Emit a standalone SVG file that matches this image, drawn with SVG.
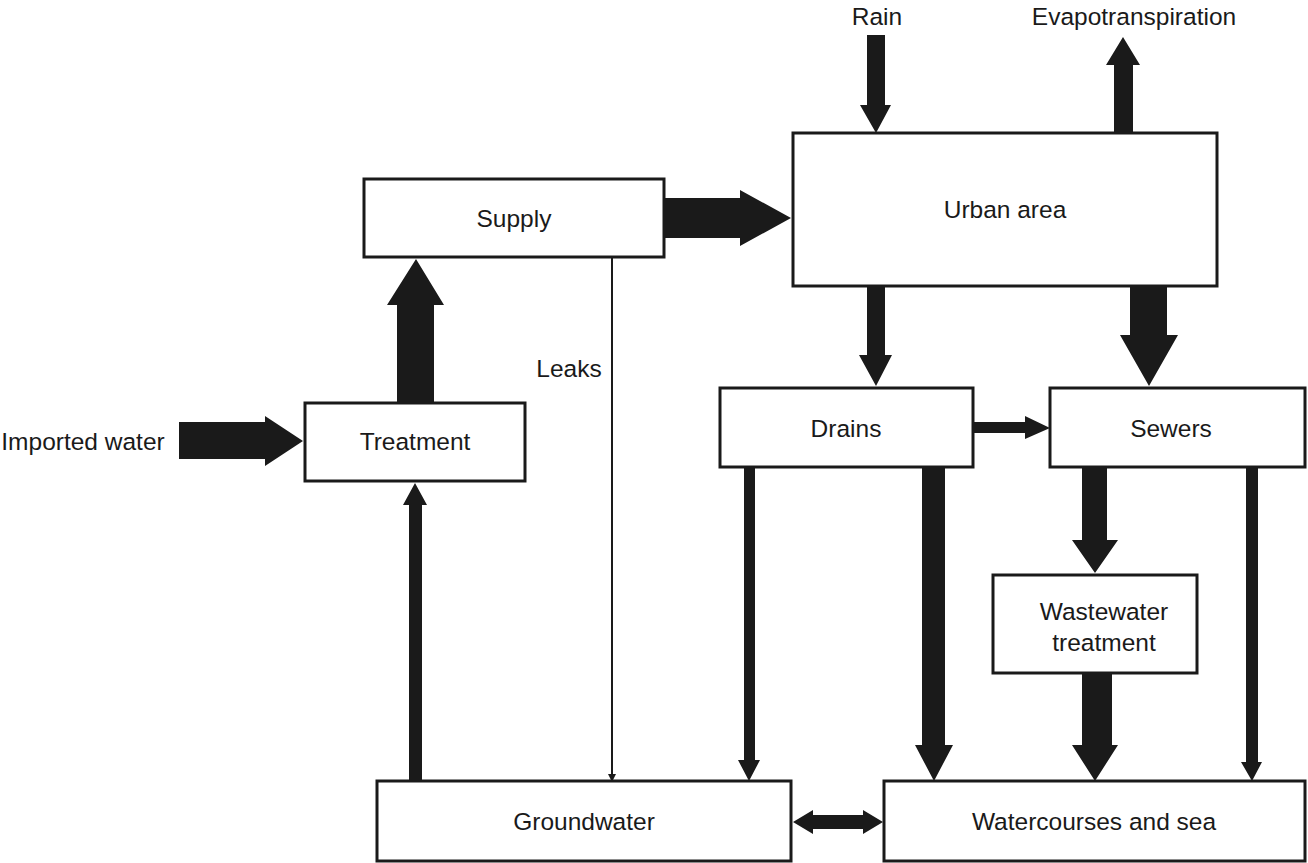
<svg xmlns="http://www.w3.org/2000/svg" width="1308" height="863" viewBox="0 0 1308 863">
<style>
.box{fill:#fff;stroke:#1a1a1a;stroke-width:3}
text{font-family:"Liberation Sans",Arial,sans-serif;font-size:24.5px;fill:#1a1a1a;text-anchor:middle}
.a{fill:#1a1a1a}
</style>
<rect width="1308" height="863" fill="#fff"/>
<g id="connectors">
<polygon class="a" points="867,35 885,35 885,105 891,105 876,133 860,105 867,105"/>
<polygon class="a" points="1114,133 1133,133 1133,65 1140,65 1123,37 1106,65 1114,65"/>
<polygon class="a" points="664,198 740,198 740,190 791,218 740,246 740,238 664,238"/>
<polygon class="a" points="867,286 885,286 885,355 892,355 876,386 859,355 867,355"/>
<polygon class="a" points="1130,286 1167,286 1167,335 1178,335 1149,386 1120,335 1130,335"/>
<polygon class="a" points="973,422 1025,422 1025,416 1050,428 1025,439 1025,433 973,433"/>
<polygon class="a" points="179,422 265,422 265,416 303,441 265,466 265,459 179,459"/>
<polygon class="a" points="397,403 434,403 434,305 444,305 416,259 387,305 397,305"/>
<line x1="612" y1="257" x2="612" y2="775" stroke="#1a1a1a" stroke-width="2"/>
<polygon class="a" points="608,774 616,774 612,782"/>
<polygon class="a" points="409,781 422,781 422,505 427,505 415,483 403,505 409,505"/>
<polygon class="a" points="744,467 755,467 755,760 760,760 749,781 738,760 744,760"/>
<polygon class="a" points="922,467 945,467 945,745 953,745 934,781 915,745 922,745"/>
<polygon class="a" points="1082,467 1107,467 1107,540 1118,540 1095,573 1072,540 1082,540"/>
<polygon class="a" points="1082,673 1112,673 1112,745 1118,745 1095,781 1072,745 1082,745"/>
<polygon class="a" points="1246,467 1258,467 1258,762 1262,762 1252,781 1241,762 1246,762"/>
<polygon class="a" points="793,822 813,810 813,815 863,815 863,810 883,822 863,834 863,829 813,829 813,834"/>
</g>
<g id="supply"><rect class="box" x="364" y="179" width="300" height="78"/><text x="514" y="227">Supply</text></g>
<g id="urban"><rect class="box" x="793" y="133" width="424" height="153"/><text x="1005" y="218">Urban area</text></g>
<g id="treatment"><rect class="box" x="305" y="403" width="220" height="78"/><text x="415" y="450">Treatment</text></g>
<g id="drains"><rect class="box" x="720" y="388" width="253" height="79"/><text x="846" y="437">Drains</text></g>
<g id="sewers"><rect class="box" x="1050" y="388" width="255" height="79"/><text x="1171" y="437">Sewers</text></g>
<g id="wwt"><rect class="box" x="993" y="575" width="204" height="98"/><text x="1104" y="620">Wastewater</text><text x="1104" y="651">treatment</text></g>
<g id="groundwater"><rect class="box" x="377" y="781" width="414" height="80"/><text x="584" y="830">Groundwater</text></g>
<g id="watercourses"><rect class="box" x="884" y="781" width="421" height="80"/><text x="1094" y="830">Watercourses and sea</text></g>
<g id="labels">
<text x="877" y="25">Rain</text>
<text x="1134" y="25">Evapotranspiration</text>
<text x="83" y="450">Imported water</text>
<text x="569" y="377">Leaks</text>
</g>
</svg>
